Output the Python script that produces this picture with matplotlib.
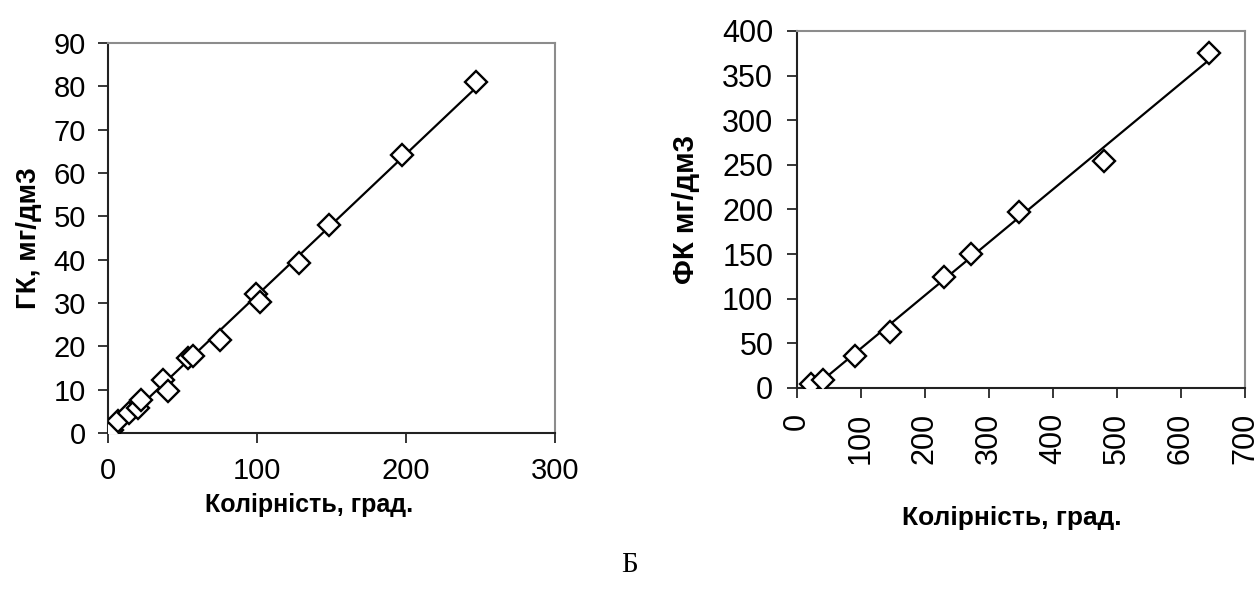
import numpy as np
import matplotlib
matplotlib.use("Agg")
import matplotlib.pyplot as plt

# ГК vs колірність (ліва панель)
colour_gk = [3, 7, 14, 20, 22, 37, 40, 54, 57, 75.5, 99, 102, 128, 148, 197, 247]
gk = [0.8, 2.7, 4.6, 5.8, 7.7, 12.3, 9.8, 17.3, 17.7, 21.5, 32.1, 30.2, 39.2, 48, 64.1, 81]

# ФК vs колірність (права панель)
colour_fk = [22, 41, 91, 145, 229, 272, 347, 479, 643]
fk = [5, 9, 36, 63, 124, 150, 197, 254, 375]

x_label = "Колірність, град."
y_label_left = "ГК, мг/дм3"
y_label_right = "ФК мг/дм3"
caption = "Б"

plt.rcParams['font.family'] = ['Liberation Sans', 'DejaVu Sans']

fig = plt.figure(figsize=(12.6, 5.98), dpi=100)
ax1 = fig.add_axes([0.0857, 0.2759, 0.3548, 0.6522])
ax2 = fig.add_axes([0.6325, 0.3512, 0.3556, 0.5970])


def style(ax, size):
    for side in ['left', 'bottom']:
        ax.spines[side].set_color('#222222')
        ax.spines[side].set_linewidth(1.5)
    for side in ['top', 'right']:
        ax.spines[side].set_color('#8c8c8c')
        ax.spines[side].set_linewidth(1.5)
    ax.tick_params(direction='out', length=7, width=1.1, labelsize=size)


def draw(ax, x, y):
    x = np.array(x)
    y = np.array(y)
    k, b = np.polyfit(x, y, 1)
    xs = np.array([x.min(), x.max()])
    ax.plot(xs, k * xs + b, color='black', lw=1.6, zorder=2)
    ax.plot(x, y, 'D', ms=11, mfc='white', mec='black', mew=1.7, zorder=3)


draw(ax1, colour_gk, gk)
ax1.set_xlim(0, 300)
ax1.set_ylim(0, 90)
ax1.set_xticks([0, 100, 200, 300])
ax1.set_yticks(range(0, 91, 10))
style(ax1, 21)
ax1.tick_params(axis='x', pad=10)
ax1.tick_params(axis='y', pad=9)
ax1.set_xlabel(x_label, fontsize=18, fontweight='bold', labelpad=6)
ax1.xaxis.label.set_x(0.45)
ax1.set_ylabel(y_label_left, fontsize=20, fontweight='bold', labelpad=8)

draw(ax2, colour_fk, fk)
ax2.set_xlim(0, 700)
ax2.set_ylim(0, 400)
ax2.set_xticks(range(0, 701, 100))
ax2.set_yticks(range(0, 401, 50))
style(ax2, 22)
ax2.tick_params(axis='x', labelrotation=90, pad=11)
ax2.tick_params(axis='y', pad=10)
ax2.set_xlabel(x_label, fontsize=19, fontweight='bold', labelpad=30)
ax2.xaxis.label.set_x(0.48)
ax2.set_ylabel(y_label_right, fontsize=21, fontweight='bold', labelpad=16)

fig.text(0.5, 0.055, caption, ha='center', va='center', fontsize=21,
         family=['Liberation Serif', 'DejaVu Serif'])

fig.savefig("out.png", dpi=100)
